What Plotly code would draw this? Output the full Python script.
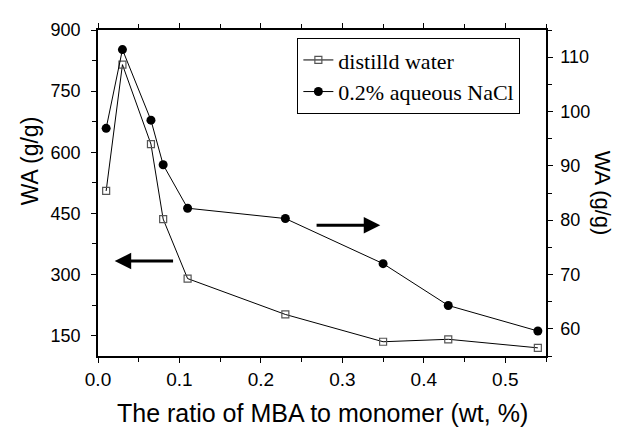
import plotly.graph_objects as go

x_vals = [0.01, 0.03, 0.065, 0.08, 0.11, 0.23, 0.35, 0.43, 0.54]
water = [505, 815, 620, 436, 290, 202, 135, 141, 120]
nacl = [96.9, 111.4, 98.4, 90.2, 82.2, 80.3, 72.0, 64.3, 59.6]

fig = go.Figure()
fig.add_trace(go.Scatter(
    x=x_vals, y=water, name="distilld water", mode="lines+markers",
    line=dict(color="black", width=1),
    marker=dict(symbol="square-open", size=7, color="#555555", line=dict(width=1.2)),
    yaxis="y"))
fig.add_trace(go.Scatter(
    x=x_vals, y=nacl, name="0.2% aqueous NaCl", mode="lines+markers",
    line=dict(color="black", width=1),
    marker=dict(symbol="circle", size=9, color="black"),
    yaxis="y2"))

sans = "Liberation Sans, Arial"
axis_common = dict(showline=True, linecolor="black", linewidth=1.5, ticks="outside",
                   ticklen=5, tickwidth=1.2, tickcolor="black", showgrid=False,
                   zeroline=False)

# the page body has an 8px default margin; compensate so the plot area lands where the reference has it
fig.update_layout(
    width=614, height=420,
    margin=dict(l=90, r=76, t=16, b=72),
    paper_bgcolor="white", plot_bgcolor="white",
    showlegend=True,
    legend=dict(x=0.445, y=0.975, xanchor="left", yanchor="top",
                bordercolor="black", borderwidth=1, bgcolor="white",
                font=dict(family="Liberation Serif, Times New Roman", size=22, color="black"),
                tracegroupgap=0, itemwidth=30),
    xaxis=dict(range=[0, 0.55], dtick=0.1, tick0=0, tickformat=".1f", mirror="ticks",
               tickfont=dict(family=sans, size=19, color="black"),
               minor=dict(dtick=0.05, ticks="outside", ticklen=4, tickcolor="black"),
               **axis_common),
    yaxis=dict(range=[100, 900], dtick=150, tick0=0, ticklabelstandoff=7,
               tickfont=dict(family=sans, size=18, color="black"),
               minor=dict(dtick=75, ticks="outside", ticklen=4, tickcolor="black"),
               **axis_common),
    yaxis2=dict(range=[55, 115], dtick=10, tick0=0, overlaying="y", side="right",
                ticklabelstandoff=4,
                tickfont=dict(family=sans, size=18, color="black"),
                minor=dict(dtick=5, ticks="outside", ticklen=4, tickcolor="black"),
                **axis_common),
)

# axis titles
fig.add_annotation(text="The ratio of MBA to monomer (wt, %)", xref="paper", yref="paper",
                   x=0.5, y=-0.175, yanchor="middle", showarrow=False,
                   font=dict(family=sans, size=25, color="black"))
fig.add_annotation(text="WA (g/g)", xref="paper", yref="paper", x=-0.152, y=0.60,
                   xanchor="center", yanchor="middle",
                   textangle=-90, showarrow=False,
                   font=dict(family=sans, size=23, color="black"))
fig.add_annotation(text="WA (g/g)", xref="paper", yref="paper", x=1.128, y=0.50,
                   xanchor="center", yanchor="middle",
                   textangle=90, showarrow=False,
                   font=dict(family=sans, size=22, color="black"))

# direction arrows
fig.add_annotation(x=0.0205, y=333, ax=0.094, ay=333, xref="x", yref="y",
                   axref="x", ayref="y", text="", showarrow=True,
                   arrowhead=2, arrowsize=1.1, arrowwidth=3, arrowcolor="black")
fig.add_annotation(x=0.3465, y=421, ax=0.2665, ay=421, xref="x", yref="y",
                   axref="x", ayref="y", text="", showarrow=True,
                   arrowhead=2, arrowsize=1.1, arrowwidth=3, arrowcolor="black")

fig.write_html("out.html")
